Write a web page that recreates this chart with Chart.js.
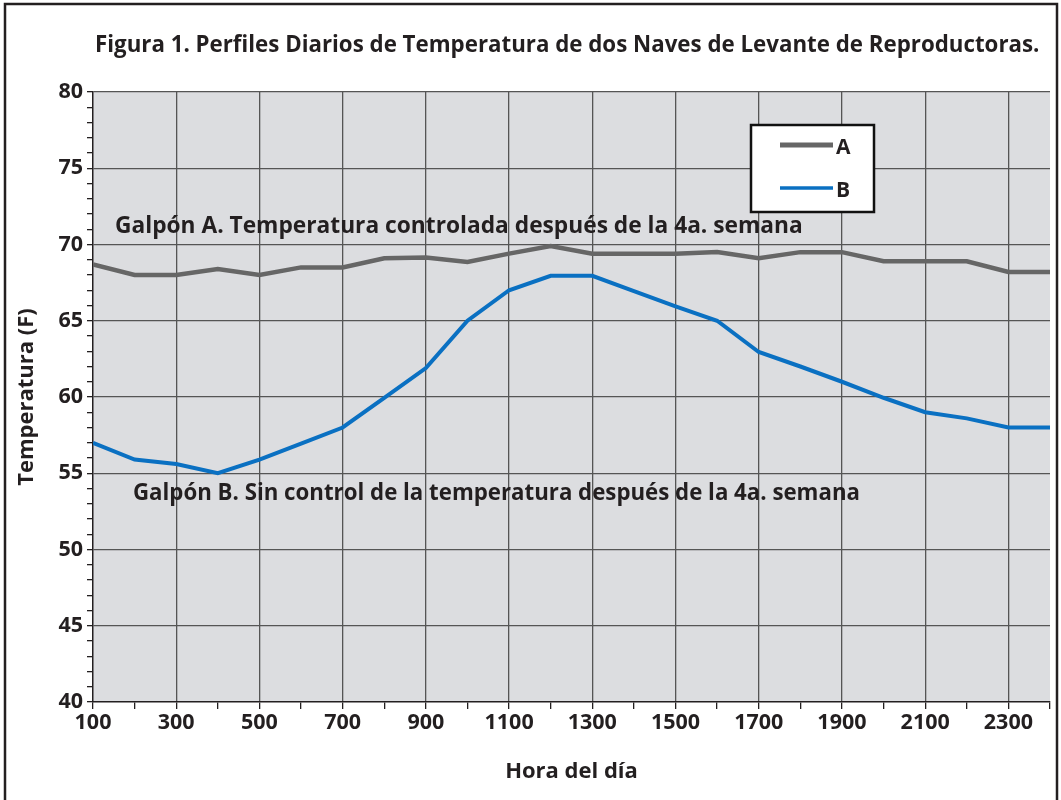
<!DOCTYPE html>
<html>
<head>
<meta charset="utf-8">
<script src="https://cdn.jsdelivr.net/npm/chart.js@4"></script>
<style>
  html, body { margin: 0; padding: 0; background: #fff; }
  #wrap { width: 1061px; height: 800px; position: relative; }
</style>
</head>
<body>
<div id="wrap"><canvas id="chart" width="1061" height="800"></canvas></div>
<script>
// Hourly readings, 100 .. 2400
const HOURS = [100, 200, 300, 400, 500, 600, 700, 800, 900, 1000, 1100, 1200,
               1300, 1400, 1500, 1600, 1700, 1800, 1900, 2000, 2100, 2200, 2300, 2400];
const GALPON_A = [68.7, 68.0, 68.0, 68.4, 68.0, 68.5, 68.5, 69.1, 69.15, 68.85, 69.4, 69.9,
                  69.4, 69.4, 69.4, 69.5, 69.1, 69.5, 69.5, 68.9, 68.9, 68.9, 68.2, 68.2];
const GALPON_B = [57.0, 55.9, 55.6, 55.0, 55.9, 56.95, 58.0, 59.95, 61.9, 65.0, 67.0, 67.95,
                  67.95, 66.95, 65.95, 65.0, 62.95, 62.0, 61.0, 59.95, 59.0, 58.6, 58.0, 58.0];
const X_LABELS = [100, 300, 500, 700, 900, 1100, 1300, 1500, 1700, 1900, 2100, 2300];
const Y_LABELS = [40, 45, 50, 55, 60, 65, 70, 75, 80];

const TITLE = "Figura 1. Perfiles Diarios de Temperatura de dos Naves de Levante de Reproductoras.";
const NOTE_A = "Galpón A. Temperatura controlada después de la 4a. semana";
const NOTE_B = "Galpón B. Sin control de la temperatura después de la 4a. semana";

const FONT = "'Open Sans', 'DejaVu Sans', sans-serif";
const INK = "#231f20";
const GRID = "#555555";

// pick a bold font size so the text spans the given width
function fitFont(ctx, text, width) {
  ctx.font = "700 20px " + FONT;
  const size = 20 * width / ctx.measureText(text).width;
  ctx.font = "700 " + size.toFixed(2) + "px " + FONT;
}

const decor = {
  id: "decor",
  beforeDraw(chart) {
    const { ctx, chartArea: a } = chart;
    ctx.save();
    ctx.fillStyle = "#dcdde0";
    ctx.fillRect(a.left, a.top, a.right - a.left, a.bottom - a.top);
    ctx.restore();
  },
  afterDraw(chart) {
    const { ctx, scales } = chart;
    const ds = chart.data.datasets;
    ctx.save();
    // outer frame
    ctx.strokeStyle = INK;
    ctx.lineWidth = 2.5;
    ctx.strokeRect(5, 4, 1052, 810);

    ctx.fillStyle = INK;
    ctx.textBaseline = "middle";
    ctx.textAlign = "left";
    fitFont(ctx, TITLE, 945);
    ctx.fillText(TITLE, 95, 46);

    // notes
    fitFont(ctx, NOTE_A, 688);
    ctx.fillText(NOTE_A, 115, scales.y.getPixelForValue(71.2));
    fitFont(ctx, NOTE_B, 727);
    ctx.fillText(NOTE_B, 133, scales.y.getPixelForValue(53.65));

    // legend box
    const lx = 751, ly = 125, lw = 123, lh = 87;
    ctx.fillStyle = "#ffffff";
    ctx.fillRect(lx, ly, lw, lh);
    ctx.strokeStyle = "#111";
    ctx.lineWidth = 2.5;
    ctx.strokeRect(lx, ly, lw, lh);
    const rows = [ly + 20, ly + 63];
    ds.forEach((d, i) => {
      ctx.strokeStyle = d.borderColor;
      ctx.lineWidth = i === 0 ? 5 : 3.5;
      ctx.beginPath();
      ctx.moveTo(lx + 29, rows[i]);
      ctx.lineTo(lx + 82, rows[i]);
      ctx.stroke();
      ctx.fillStyle = INK;
      ctx.font = "700 21px " + FONT;
      ctx.fillText(d.label, lx + 85, rows[i] + 3);
    });
    ctx.restore();
  }
};

const tickFont = { family: FONT, weight: "700", size: 21.5 };
const titleFont = { family: FONT, weight: "700", size: 22 };

new Chart(document.getElementById("chart"), {
  type: "line",
  data: {
    datasets: [
      { label: "A", data: HOURS.map((h, i) => ({ x: h, y: GALPON_A[i] })),
        borderColor: "#666666", borderWidth: 4.5, pointRadius: 0, tension: 0 },
      { label: "B", data: HOURS.map((h, i) => ({ x: h, y: GALPON_B[i] })),
        borderColor: "#0a70c2", borderWidth: 4, pointRadius: 0, tension: 0 }
    ]
  },
  options: {
    responsive: false,
    animation: false,
    layout: { padding: { left: 0, top: 92, right: 11, bottom: 0 } },
    plugins: { legend: { display: false }, tooltip: { enabled: false }, title: { display: false } },
    scales: {
      x: {
        type: "linear", min: 100, max: 2400,
        afterFit: s => { s.height = 98; },
        ticks: {
          stepSize: 100, autoSkip: false, maxRotation: 0, padding: 1, color: INK,
          font: tickFont,
          callback: v => X_LABELS.includes(v) ? String(v) : ""
        },
        grid: {
          drawOnChartArea: true, tickLength: 7, lineWidth: 1.3,
          color: c => (X_LABELS.includes(c.tick.value) && c.tick.value !== 100) ? GRID : "rgba(0,0,0,0)",
          tickColor: INK
        },
        border: { color: INK, width: 1.5 },
        title: { display: true, text: "Hora del día", color: INK,
                 font: titleFont, padding: { bottom: 15 } }
      },
      y: {
        min: 40, max: 80,
        afterFit: s => { s.width = 93; },
        ticks: {
          stepSize: 1, autoSkip: false, padding: 4, color: INK,
          font: tickFont,
          callback: v => Y_LABELS.includes(v) ? String(v) : ""
        },
        grid: {
          tickLength: 6, lineWidth: 1.3,
          color: c => (Y_LABELS.includes(c.tick.value) && c.tick.value !== 40) ? GRID : "rgba(0,0,0,0)",
          tickColor: INK
        },
        border: { color: INK, width: 1.5 },
        title: { display: true, text: "Temperatura (F)", color: INK,
                 font: titleFont, padding: { top: 14 } }
      }
    }
  },
  plugins: [decor]
});
</script>
</body>
</html>
